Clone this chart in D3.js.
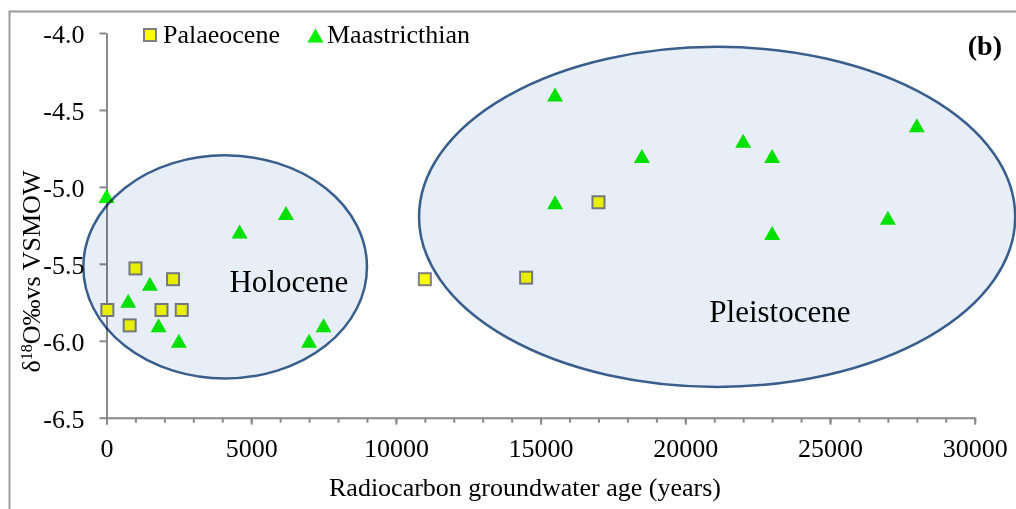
<!DOCTYPE html>
<html>
<head>
<meta charset="utf-8">
<script src="https://cdn.jsdelivr.net/npm/d3@7"></script>
<style>
  html, body { margin: 0; padding: 0; background: #fff; }
  svg { display: block; font-family: "Liberation Serif", "Times New Roman", serif; }
</style>
</head>
<body>
<svg id="chart" width="1016" height="509"></svg>
<script>
// Palaeocene aquifer samples: radiocarbon age (years) and δ18O (‰ vs VSMOW)
const palaeoceneAge = [30, 1000, 2300, 800, 1900, 2600, 11000, 14500, 17000];
const palaeoceneD18O = [-5.8, -5.53, -5.6, -5.9, -5.8, -5.8, -5.6, -5.59, -5.1];

// Maastricthian aquifer samples
const maastrichtianAge = [0, 1500, 750, 1800, 2500, 4600, 6200, 7000, 7500,
  15500, 15500, 18500, 22000, 23000, 23000, 27000, 28000];
const maastrichtianD18O = [-5.06, -5.63, -5.74, -5.9, -6.0, -5.29, -5.17, -6.0, -5.9,
  -4.4, -5.1, -4.8, -4.7, -4.8, -5.3, -5.2, -4.6];

// Recharge-period groupings, drawn as ellipses in data units
const periodNames = ["Holocene", "Pleistocene"];
const periodCentreAge = [4100, 21100];
const periodCentreD18O = [-5.52, -5.195];
const periodRadiusAge = [4900, 10300];
const periodRadiusD18O = [0.725, 1.105];
const periodLabelAge = [6300, 23270];
const periodLabelD18O = [-5.684, -5.877];

// Axis ticks
const xMajorTicks = [0, 5000, 10000, 15000, 20000, 25000, 30000];
const xMinorTicks = d3.range(0, 30001, 1000);
const yTicks = [-6.5, -6.0, -5.5, -5.0, -4.5, -4.0];

const seriesNames = ["Palaeocene", "Maastricthian"];

const svg = d3.select("#chart");
const axisColor = "#898989";
const serif = '"Liberation Serif", "Times New Roman", serif';

// Outer chart frame
svg.append("rect")
  .attr("x", 9.5).attr("y", 11.5)
  .attr("width", 1030).attr("height", 520)
  .attr("fill", "#fff")
  .attr("stroke", "#9a9a9a").attr("stroke-width", 2);

const x = d3.scaleLinear().domain([0, 30000]).range([106.5, 974.7]);
const y = d3.scaleLinear().domain([-6.5, -4.0]).range([417.7, 33]);

// Minor x ticks
svg.append("g")
  .attr("transform", `translate(0,${y(-6.5)})`)
  .call(d3.axisBottom(x).tickValues(xMinorTicks).tickSize(5).tickFormat(""))
  .call(g => g.select(".domain").remove())
  .call(g => g.selectAll("line").attr("stroke", axisColor).attr("stroke-width", 2));

// Major x axis
svg.append("g")
  .attr("transform", `translate(0,${y(-6.5)})`)
  .call(d3.axisBottom(x).tickValues(xMajorTicks).tickSize(7).tickSizeOuter(0).tickPadding(14).tickFormat(d => String(d)))
  .call(g => g.select(".domain").attr("stroke", axisColor).attr("stroke-width", 2))
  .call(g => g.selectAll("line").attr("stroke", axisColor).attr("stroke-width", 2))
  .call(g => g.selectAll("text").attr("fill", "#000").style("font-size", "26px").style("font-family", serif));

// y axis
svg.append("g")
  .attr("transform", `translate(${x(0)},0)`)
  .call(d3.axisLeft(y).tickValues(yTicks).tickSize(7).tickSizeOuter(0).tickPadding(15).tickFormat(d => d.toFixed(1)))
  .call(g => g.select(".domain").attr("stroke", axisColor).attr("stroke-width", 2))
  .call(g => g.selectAll("line").attr("stroke", axisColor).attr("stroke-width", 2))
  .call(g => g.selectAll("text").attr("fill", "#000").attr("dy", "0.36em").style("font-size", "26px").style("font-family", serif));

// Markers
const sq = 12;
const triW = 16, triH = 14;
const triPath = `M0,${-triH / 2}L${triW / 2},${triH / 2}L${-triW / 2},${triH / 2}Z`;

svg.append("g").selectAll("path")
  .data(d3.zip(maastrichtianAge, maastrichtianD18O))
  .join("path")
  .attr("d", triPath)
  .attr("transform", d => `translate(${x(d[0])},${y(d[1])})`)
  .attr("fill", "#00f000");

svg.append("g").selectAll("rect")
  .data(d3.zip(palaeoceneAge, palaeoceneD18O))
  .join("rect")
  .attr("x", d => x(d[0]) - sq / 2)
  .attr("y", d => y(d[1]) - sq / 2)
  .attr("width", sq).attr("height", sq)
  .attr("fill", "#ffff00")
  .attr("stroke", "#808080").attr("stroke-width", 2);

// Period ellipses, tinting whatever lies beneath
svg.append("g").selectAll("ellipse")
  .data(d3.range(periodNames.length))
  .join("ellipse")
  .attr("cx", i => x(periodCentreAge[i]))
  .attr("cy", i => y(periodCentreD18O[i]))
  .attr("rx", i => x(periodCentreAge[i] + periodRadiusAge[i]) - x(periodCentreAge[i]))
  .attr("ry", i => y(periodCentreD18O[i]) - y(periodCentreD18O[i] + periodRadiusD18O[i]))
  .attr("fill", "#e7eef7")
  .attr("stroke", "#3a5e8c").attr("stroke-width", 2.5)
  .style("mix-blend-mode", "multiply");

svg.append("g").selectAll("text")
  .data(d3.range(periodNames.length))
  .join("text")
  .attr("x", i => x(periodLabelAge[i]))
  .attr("y", i => y(periodLabelD18O[i]))
  .attr("text-anchor", "middle")
  .style("font-size", "31px")
  .text(i => periodNames[i]);

// Legend
const legend = svg.append("g");
legend.append("rect")
  .attr("x", 144).attr("y", 29).attr("width", sq).attr("height", sq)
  .attr("fill", "#ffff00").attr("stroke", "#808080").attr("stroke-width", 2);
legend.append("text").attr("x", 163).attr("y", 43).style("font-size", "26px").text(seriesNames[0]);
legend.append("path").attr("d", triPath).attr("transform", "translate(315.5,35.5)").attr("fill", "#00f000");
legend.append("text").attr("x", 327).attr("y", 43).style("font-size", "26px").text(seriesNames[1]);

// Panel tag
svg.append("text")
  .attr("x", 1002).attr("y", 55)
  .attr("text-anchor", "end")
  .style("font-size", "28px").style("font-weight", "bold")
  .text("(b)");

// Axis titles
svg.append("text")
  .attr("x", 525).attr("y", 496)
  .attr("text-anchor", "middle")
  .style("font-size", "26px")
  .text("Radiocarbon groundwater age (years)");

const yTitle = svg.append("text")
  .attr("transform", "translate(40,271.5) rotate(-90)")
  .attr("text-anchor", "middle")
  .style("font-size", "26px");
yTitle.append("tspan").text("δ");
yTitle.append("tspan").attr("baseline-shift", "super").style("font-size", "16px").text("18");
yTitle.append("tspan").text("O‰vs VSMOW");
</script>
</body>
</html>
